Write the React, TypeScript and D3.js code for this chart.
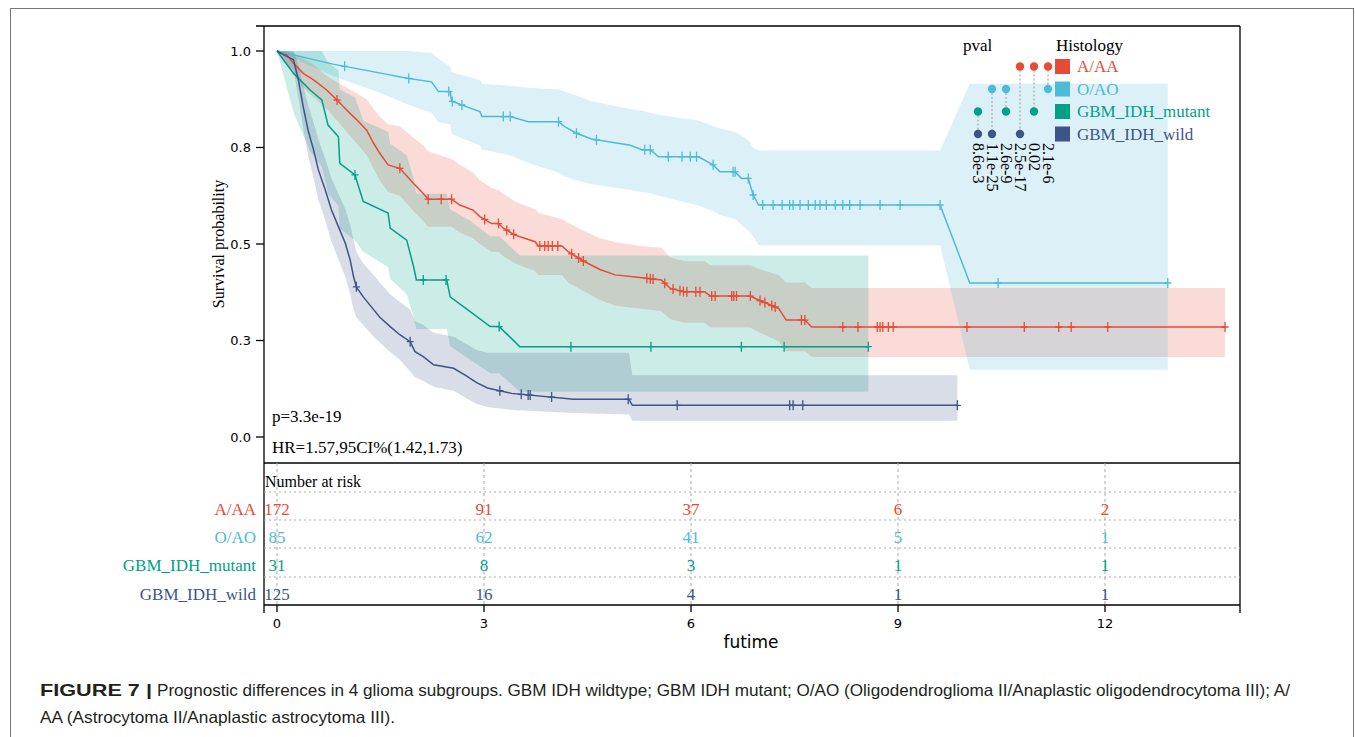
import React from 'react'
import * as d3 from 'd3'

const groups = ['A/AA', 'O/AO', 'GBM_IDH_mutant', 'GBM_IDH_wild']
const groupColors = ['#E64B35', '#4DBBD5', '#00A087', '#3C5488']

// rows: [time, survival, lower95, upper95]
const curveAA = [
    [0, 1, 1, 1], [0.14, 0.99, 0.97, 1], [0.24, 0.968, 0.94, 0.995],
    [0.38, 0.942, 0.905, 0.98], [0.53, 0.925, 0.88, 0.965], [0.72, 0.899, 0.85, 0.935],
    [0.87, 0.873, 0.82, 0.92], [1.01, 0.847, 0.79, 0.905], [1.16, 0.821, 0.76, 0.89],
    [1.3, 0.795, 0.73, 0.875], [1.4, 0.761, 0.695, 0.85], [1.49, 0.735, 0.665, 0.83],
    [1.61, 0.705, 0.635, 0.81], [1.78, 0.696, 0.625, 0.805], [1.98, 0.657, 0.585, 0.775],
    [2.12, 0.631, 0.56, 0.755], [2.19, 0.616, 0.545, 0.74], [2.53, 0.616, 0.545, 0.72],
    [2.65, 0.601, 0.53, 0.705], [2.84, 0.588, 0.515, 0.685], [2.94, 0.571, 0.5, 0.665],
    [3.11, 0.553, 0.48, 0.645], [3.21, 0.553, 0.48, 0.64], [3.28, 0.541, 0.468, 0.63],
    [3.45, 0.523, 0.45, 0.61], [3.59, 0.515, 0.44, 0.6], [3.74, 0.506, 0.43, 0.59],
    [3.79, 0.495, 0.42, 0.58], [4.13, 0.495, 0.42, 0.565], [4.22, 0.48, 0.4, 0.555],
    [4.44, 0.456, 0.378, 0.535], [4.68, 0.434, 0.355, 0.515], [4.9, 0.42, 0.34, 0.505],
    [5.26, 0.413, 0.333, 0.495], [5.57, 0.407, 0.326, 0.49], [5.7, 0.385, 0.305, 0.465],
    [5.91, 0.376, 0.296, 0.455], [6.2, 0.376, 0.296, 0.455], [6.28, 0.365, 0.284, 0.445],
    [6.86, 0.365, 0.284, 0.445], [6.98, 0.355, 0.272, 0.435], [7.27, 0.333, 0.248, 0.42],
    [7.38, 0.303, 0.222, 0.4], [7.65, 0.303, 0.222, 0.4], [7.75, 0.285, 0.207, 0.386],
    [13.74, 0.285, 0.207, 0.386],
]
const censorAA = [
    0.87, 1.78, 2.19, 2.38, 2.53, 3.01, 3.21, 3.33, 3.43, 3.81, 3.88, 3.93, 3.99, 4.07,
    4.27, 4.37, 4.44, 5.36, 5.41, 5.45, 5.62, 5.74, 5.84, 5.89, 5.94, 6.07, 6.13, 6.3,
    6.35, 6.59, 6.62, 6.66, 6.86, 7.0, 7.07, 7.17, 7.22, 7.6, 7.65, 8.2, 8.42, 8.7, 8.74,
    8.78, 8.86, 8.93, 10.0, 10.83, 11.33, 11.51, 12.04, 13.74,
]

const curveOAO = [
    [0, 1, 1, 1], [0.81, 0.966, 0.935, 1], [1.52, 0.942, 0.89, 1], [1.91, 0.929, 0.86, 1],
    [2.24, 0.92, 0.84, 0.995], [2.34, 0.895, 0.815, 0.98], [2.51, 0.895, 0.81, 0.96],
    [2.53, 0.87, 0.785, 0.945], [2.94, 0.843, 0.755, 0.925], [2.97, 0.83, 0.745, 0.915],
    [3.38, 0.83, 0.73, 0.91], [3.64, 0.817, 0.71, 0.905], [4.08, 0.817, 0.685, 0.9],
    [4.17, 0.804, 0.675, 0.895], [4.34, 0.787, 0.665, 0.885], [4.56, 0.772, 0.655, 0.87],
    [5.12, 0.756, 0.64, 0.85], [5.29, 0.744, 0.635, 0.845], [5.41, 0.744, 0.632, 0.84],
    [5.53, 0.726, 0.625, 0.835], [6.11, 0.726, 0.6, 0.82], [6.32, 0.705, 0.585, 0.805],
    [6.42, 0.687, 0.575, 0.8], [6.64, 0.687, 0.565, 0.79], [6.73, 0.67, 0.55, 0.78],
    [6.83, 0.67, 0.535, 0.77], [6.9, 0.627, 0.52, 0.75], [6.98, 0.601, 0.497, 0.742],
    [9.61, 0.601, 0.497, 0.742], [10.04, 0.399, 0.174, 0.915], [12.91, 0.399, 0.174, 0.915],
]
const censorOAO = [
    0.98, 1.91, 2.49, 2.54, 2.68, 3.28, 3.38, 4.08, 4.34, 4.63, 5.33, 5.41, 5.67, 5.87,
    5.99, 6.08, 6.32, 6.61, 6.64, 6.83, 6.9, 7.04, 7.19, 7.32, 7.43, 7.48, 7.58, 7.7, 7.8,
    7.87, 7.96, 8.09, 8.2, 8.3, 8.45, 8.74, 9.03, 9.61, 10.45, 12.91,
]

const curveMut = [
    [0, 1, 1, 1], [0.24, 0.942, 0.84, 1], [0.48, 0.899, 0.74, 1], [0.65, 0.873, 0.7, 1],
    [0.74, 0.808, 0.63, 0.97], [0.89, 0.778, 0.6, 0.95], [0.91, 0.709, 0.54, 0.9],
    [1.13, 0.679, 0.51, 0.88], [1.25, 0.61, 0.48, 0.82], [1.61, 0.58, 0.44, 0.79],
    [1.64, 0.541, 0.41, 0.76], [1.88, 0.51, 0.37, 0.73], [1.98, 0.441, 0.31, 0.67],
    [2.02, 0.407, 0.28, 0.63], [2.46, 0.407, 0.28, 0.63], [2.51, 0.363, 0.235, 0.59],
    [2.8, 0.325, 0.2, 0.56], [3.09, 0.286, 0.165, 0.52], [3.22, 0.286, 0.165, 0.52],
    [3.52, 0.234, 0.117, 0.47], [8.57, 0.234, 0.117, 0.47],
]
const censorMut = [1.13, 2.12, 2.45, 3.22, 4.26, 5.42, 6.73, 7.35, 8.57]

const curveWild = [
    [0, 1, 1, 1], [0.1, 0.99, 0.97, 1], [0.24, 0.977, 0.95, 1], [0.31, 0.925, 0.88, 0.965],
    [0.38, 0.856, 0.8, 0.91], [0.45, 0.795, 0.73, 0.86], [0.53, 0.744, 0.67, 0.815],
    [0.6, 0.692, 0.615, 0.77], [0.7, 0.64, 0.56, 0.72], [0.79, 0.588, 0.505, 0.67],
    [0.89, 0.545, 0.46, 0.63], [0.99, 0.502, 0.415, 0.59], [1.06, 0.459, 0.37, 0.55],
    [1.11, 0.415, 0.33, 0.51], [1.15, 0.389, 0.31, 0.48], [1.25, 0.363, 0.29, 0.45],
    [1.4, 0.33, 0.26, 0.42], [1.49, 0.31, 0.245, 0.4], [1.64, 0.286, 0.22, 0.37],
    [1.78, 0.265, 0.2, 0.35], [1.93, 0.247, 0.17, 0.33], [2.0, 0.221, 0.155, 0.3],
    [2.12, 0.208, 0.145, 0.29], [2.27, 0.187, 0.13, 0.27], [2.56, 0.178, 0.12, 0.26],
    [2.75, 0.158, 0.1, 0.24], [2.9, 0.14, 0.085, 0.225], [3.05, 0.127, 0.078, 0.218],
    [3.4, 0.113, 0.07, 0.218], [4.3, 0.098, 0.062, 0.218], [5.1, 0.098, 0.058, 0.218],
    [5.15, 0.082, 0.042, 0.16], [9.86, 0.082, 0.042, 0.16],
]
const censorWild = [1.15, 1.93, 3.23, 3.54, 3.64, 3.67, 3.98, 5.09, 5.8, 7.43, 7.48, 7.62, 9.86]

const curves = [curveAA, curveOAO, curveMut, curveWild]
const censors = [censorAA, censorOAO, censorMut, censorWild]

const riskTimes = [0, 3, 6, 9, 12]
const riskAA = [172, 91, 37, 6, 2]
const riskOAO = [85, 62, 41, 5, 1]
const riskMut = [31, 8, 3, 1, 1]
const riskWild = [125, 16, 4, 1, 1]
const riskRows = [riskAA, riskOAO, riskMut, riskWild]

// pairwise log-rank comparisons (group indices) and their p values
const pvalPairs = [[2, 3], [1, 3], [1, 2], [0, 3], [0, 2], [0, 1]]
const pvalLabels = ['8.6e-3', '1.1e-25', '2.6e-9', '2.5e-17', '0.02', '2.1e-6']

const xTicks = [0, 3, 6, 9, 12]
const yTicks = [0, 0.25, 0.5, 0.75, 1]

const serif = '"Liberation Serif", "Times New Roman", serif'
const sans = '"DejaVu Sans", sans-serif'
const captionFont = '"Liberation Sans", Arial, sans-serif'

export default function App() {
    const W = 1355
    const H = 737
    const [plotLeft, plotRight, plotTop, plotBottom, tableBottom] = [264, 1240, 26, 463, 605]

    const x = d3.scaleLinear().domain([0, 12]).range([277, 1105])
    const y = d3.scaleLinear().domain([0, 1]).range([437, 51])
    const rowY = d3.scalePoint().domain(groups).range([509, 594])
    const legendY = d3.scalePoint().domain(groups).range([66.5, 134])
    const pvalX = d3.scalePoint().domain(d3.range(pvalPairs.length).map(String)).range([978, 1048])
    const fmt = d3.format('.1f')

    const band = d3.area<number[]>()
        .x(d => x(d[0]))
        .y0(d => y(d[2]))
        .y1(d => y(d[3]))
    const line = d3.line<number[]>()
        .x(d => x(d[0]))
        .y(d => y(d[1]))

    return (
        <svg width={W} height={H} style={{ position: 'absolute', left: 0, top: 0, background: '#fff' }}>
            <rect x={10.5} y={8.5} width={1343} height={740} fill='none' stroke='#777' strokeWidth={1} />

            {/* confidence bands */}
            {curves.map((c, i) => (
                <path key={'b' + i} d={band(c) || ''} fill={groupColors[i]} fillOpacity={0.2} />
            ))}
            {/* survival curves */}
            {curves.map((c, i) => (
                <path key={'l' + i} d={line(c) || ''} fill='none' stroke={groupColors[i]} strokeWidth={1.5} />
            ))}
            {/* censor marks */}
            {censors.map((cs, i) => {
                const surv = d3.scaleLinear()
                    .domain(curves[i].map(d => d[0]))
                    .range(curves[i].map(d => d[1]))
                    .clamp(true)
                return (
                    <g key={'c' + i} stroke={groupColors[i]} strokeWidth={1.3}>
                        {cs.map((t, j) => {
                            const cx = x(t)
                            const cy = y(surv(t))
                            return <path key={j} d={`M${cx},${cy - 5}V${cy + 5}M${cx - 3.5},${cy}H${cx + 3.5}`} />
                        })}
                    </g>
                )
            })}

            {/* frame */}
            <g stroke='#000' strokeWidth={1.3} fill='none'>
                <line x1={256} x2={plotRight} y1={plotTop} y2={plotTop} />
                <line x1={plotLeft} x2={plotLeft} y1={plotTop} y2={613} />
                <line x1={plotRight} x2={plotRight} y1={plotTop} y2={613} />
                <line x1={plotLeft} x2={plotRight} y1={plotBottom} y2={plotBottom} />
                <line x1={plotLeft} x2={plotRight} y1={tableBottom} y2={tableBottom} />
            </g>

            {/* y axis */}
            {yTicks.map(t => (
                <g key={'y' + t}>
                    <line x1={256} x2={plotLeft} y1={y(t)} y2={y(t)} stroke='#000' strokeWidth={1.3} />
                    <text x={251} y={y(t)} textAnchor='end' dominantBaseline='central' fontFamily={sans} fontSize={13}>
                        {fmt(t)}
                    </text>
                </g>
            ))}
            <text transform='translate(218,244) rotate(-90)' textAnchor='middle' dominantBaseline='central' fontFamily={serif} fontSize={16}>
                Survival probability
            </text>

            <text x={272} y={416} dominantBaseline='central' fontFamily={serif} fontSize={17}>p=3.3e-19</text>
            <text x={272} y={447} dominantBaseline='central' fontFamily={serif} fontSize={17}>HR=1.57,95CI%(1.42,1.73)</text>

            {/* legend */}
            <text x={963} y={45} dominantBaseline='central' fontFamily={serif} fontSize={17}>pval</text>
            <text x={1056} y={45} dominantBaseline='central' fontFamily={serif} fontSize={17}>Histology</text>
            {groups.map((g, i) => (
                <g key={'lg' + g}>
                    <rect x={1055} y={(legendY(g) || 0) - 7.5} width={15} height={15} fill={groupColors[i]} />
                    <text x={1077} y={legendY(g)} dominantBaseline='central' fontFamily={serif} fontSize={17} fill={groupColors[i]}>
                        {g}
                    </text>
                </g>
            ))}
            {pvalPairs.map((pair, k) => {
                const px = pvalX(String(k)) || 0
                const ys = pair.map(gi => legendY(groups[gi]) || 0)
                return (
                    <g key={'pv' + k}>
                        <line x1={px} x2={px} y1={ys[0]} y2={ys[1]} stroke='#999' strokeWidth={1} strokeDasharray='2,2' />
                        {pair.map((gi, m) => (
                            <circle key={m} cx={px} cy={ys[m]} r={4.2} fill={groupColors[gi]} />
                        ))}
                        <text transform={`translate(${px},143) rotate(90)`} dominantBaseline='central' fontFamily={serif} fontSize={16}>
                            {pvalLabels[k]}
                        </text>
                    </g>
                )
            })}

            {/* risk table */}
            {xTicks.map(t => (
                <line key={'vg' + t} x1={x(t)} x2={x(t)} y1={plotBottom} y2={tableBottom} stroke='#aaa' strokeWidth={1} strokeDasharray='3,3' />
            ))}
            {[492, 520, 548, 577].map(yy => (
                <line key={'hg' + yy} x1={plotLeft} x2={plotRight} y1={yy} y2={yy} stroke='#aaa' strokeWidth={1} strokeDasharray='2,3' />
            ))}
            <text x={265} y={481} dominantBaseline='central' fontFamily={serif} fontSize={16}>Number at risk</text>
            {groups.map((g, i) => (
                <g key={'rt' + g} fill={groupColors[i]} fontFamily={serif} fontSize={17}>
                    <text x={256} y={rowY(g)} textAnchor='end' dominantBaseline='central'>{g}</text>
                    {riskRows[i].map((n, j) => (
                        <text key={j} x={x(riskTimes[j])} y={rowY(g)} textAnchor='middle' dominantBaseline='central'>{n}</text>
                    ))}
                </g>
            ))}

            {/* x axis */}
            {xTicks.map(t => (
                <g key={'x' + t}>
                    <line x1={x(t)} x2={x(t)} y1={tableBottom} y2={612} stroke='#000' strokeWidth={1.3} />
                    <text x={x(t)} y={623} textAnchor='middle' dominantBaseline='central' fontFamily={sans} fontSize={13}>{t}</text>
                </g>
            ))}
            <text x={751} y={642} textAnchor='middle' dominantBaseline='central' fontFamily={sans} fontSize={17}>futime</text>

            {/* caption */}
            <text x={40} y={696} fontFamily={captionFont} fontSize={16.5} fill='#231F20'>
                <tspan fontWeight='bold' textLength={112} lengthAdjust='spacingAndGlyphs'>FIGURE 7 |</tspan>
            </text>
            <text x={157} y={696} fontFamily={captionFont} fontSize={16.5} fill='#231F20' textLength={1133} lengthAdjust='spacingAndGlyphs'>
                Prognostic differences in 4 glioma subgroups. GBM IDH wildtype; GBM IDH mutant; O/AO (Oligodendroglioma II/Anaplastic oligodendrocytoma III); A/
            </text>
            <text x={40} y={723} fontFamily={captionFont} fontSize={16.5} fill='#231F20' textLength={355} lengthAdjust='spacingAndGlyphs'>
                AA (Astrocytoma II/Anaplastic astrocytoma III).
            </text>
        </svg>
    )
}
